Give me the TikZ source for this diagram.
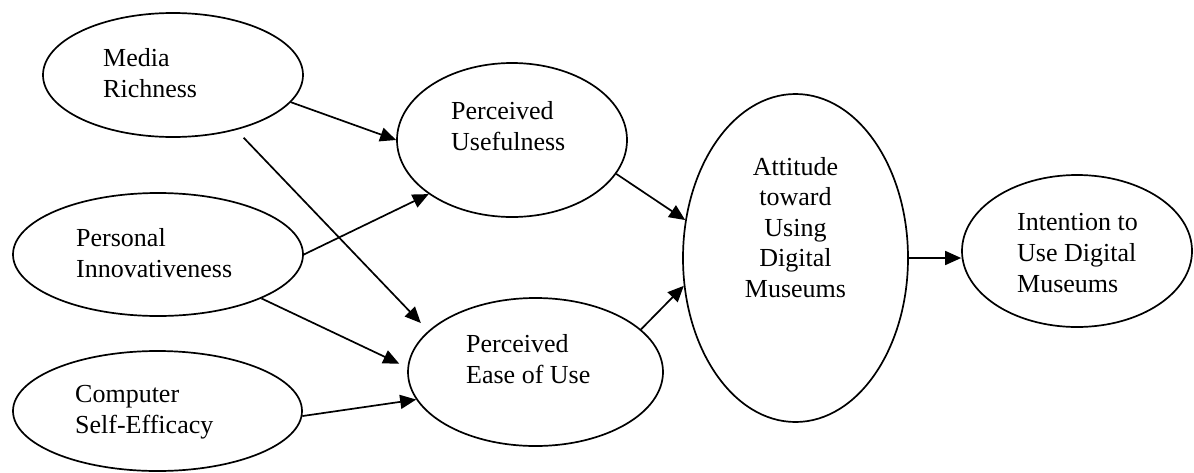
\documentclass[tikz,border=0pt]{standalone}
\usepackage{fontspec}
\setmainfont{Liberation Serif}
\usetikzlibrary{shapes.geometric,arrows.meta}
\tikzset{
  ell/.style={draw, ellipse, line width=1.7pt, inner sep=0pt},
  lbl/.style={anchor=base west, align=left, inner sep=0pt, font=\fontsize{26}{31}\selectfont},
  lblc/.style={anchor=base, align=center, inner sep=0pt, font=\fontsize{26}{30.5}\selectfont},
  conn/.style={line width=1.7pt, -{Triangle[length=16pt,width=14pt]}}
}
\begin{document}
\begin{tikzpicture}[x=1pt,y=-1pt]
\useasboundingbox (0,0) rectangle (1194,472);
% ellipses
\node[ell, minimum width=260pt, minimum height=124pt] (mr) at (173,75) {};
\node[ell, minimum width=290pt, minimum height=123pt] (pi) at (158,254.5) {};
\node[ell, minimum width=289pt, minimum height=120pt] (cse) at (157.5,411) {};
\node[ell, minimum width=230pt, minimum height=154pt] (pu) at (512,140) {};
\node[ell, minimum width=255pt, minimum height=148pt] (peu) at (535.5,372) {};
\node[ell, minimum width=225pt, minimum height=328pt] (att) at (795.5,258) {};
\node[ell, minimum width=230pt, minimum height=152pt] (int) at (1077,251) {};
% texts (anchor at baseline of last line)
\node[lbl] (mrt) at (103,97) {Media\\Richness};
\node[lbl] (pit) at (76,277) {Personal\\Innovativeness};
\node[lbl] (cset) at (75,433) {Computer\\Self-Efficacy};
\node[lbl] (put) at (451,150) {Perceived\\Usefulness};
\node[lbl] (peut) at (466,383) {Perceived\\Ease of Use};
\node[lblc] (attt) at (795.5,297) {Attitude\\toward\\Using\\Digital\\Museums};
\node[lbl] (intt) at (1017,292) {Intention to\\Use Digital\\Museums};
% connectors
\draw[conn] (mr.-13) -- (pu.180);
\draw[conn, shorten <=10.6pt, shorten >=10.8pt] (mr.-41) -- (peu.159);
\draw[conn] (pi.0) -- (pu.213.5);
\draw[conn, shorten >=9pt] (pi.-23.2) -- (peu.178);
\draw[conn] (cse.-2) -- (peu.193);
\draw[conn] (pu.-18.6) -- (att.161);
\draw[conn] (peu.22.4) -- (att.194.7);
\draw[conn] (att.east) -- (int.west |- att.east);
\end{tikzpicture}
\end{document}
